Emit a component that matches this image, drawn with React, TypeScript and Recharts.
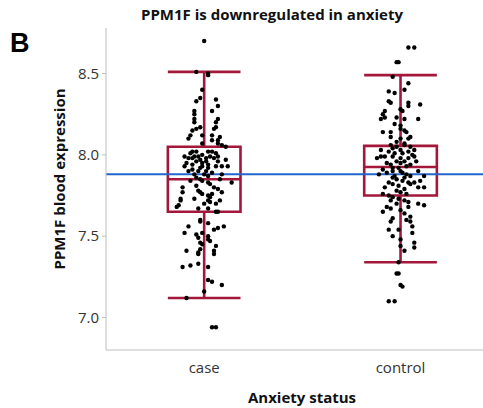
import { ComposedChart, Scatter, XAxis, YAxis, ReferenceLine, ReferenceArea } from 'recharts';

// #region data
const groups = ['case', 'control'];
const yTicks = [7.0, 7.5, 8.0, 8.5];
const overallMean = 7.88;

// box stats per group: [lower whisker, q1, median, q3, upper whisker]
const caseBox = [7.12, 7.65, 7.85, 8.05, 8.51];
const controlBox = [7.34, 7.75, 7.925, 8.055, 8.49];

const caseValues = [
  8.70, 8.51, 8.50, 8.49, 8.40, 8.35, 8.33, 8.34, 8.30, 8.27, 8.27, 8.25, 8.22, 8.22, 8.20, 8.20,
  8.17, 8.16, 8.17, 8.16, 8.15, 8.12, 8.10, 8.12, 8.12, 8.11, 8.09, 8.09, 8.07, 8.07, 8.06, 8.05,
  8.02, 8.02, 8.02, 8.02, 8.01, 8.01, 7.99, 7.99, 8.00, 7.99, 7.99, 7.98, 7.98, 7.97, 7.98, 7.98,
  7.96, 7.96, 7.95, 7.94, 7.94, 7.93, 7.91, 7.93, 7.92, 7.93, 7.93, 7.90, 7.90, 7.88, 7.87, 7.89,
  7.83, 7.85, 7.84, 7.83, 7.80, 7.77, 7.81, 7.78, 7.77, 7.76, 7.75, 7.74, 7.79, 7.77, 7.72, 7.69,
  7.72, 7.71, 7.70, 7.72, 7.67, 7.67, 7.65, 7.65, 7.99, 7.68, 7.73, 7.93, 7.86, 7.88, 7.82, 7.84,
  7.80, 7.92, 7.96, 7.88, 7.90, 7.76, 7.73, 7.70, 7.85, 7.95, 7.97,
  7.60, 7.59, 7.58, 7.56, 7.52, 7.54, 7.55, 7.56, 7.52, 7.51, 7.49, 7.50, 7.48, 7.47, 7.46, 7.45,
  7.44, 7.42, 7.40, 7.39, 7.41, 7.41, 7.39, 7.31, 7.32, 7.33, 7.31, 7.23, 7.22, 7.20, 7.16, 7.12,
  6.94, 6.94,
];
const caseJitter = [
  0.00, -0.04, 0.02, 0.02, -0.01, -0.02, -0.04, 0.06, 0.07, 0.04, -0.05, -0.05, -0.05, 0.07, 0.06, -0.05,
  0.06, 0.05, -0.02, -0.04, -0.06, -0.07, -0.08, -0.01, 0.04, 0.08, 0.04, 0.07, -0.01, 0.07, 0.09, 0.11,
  -0.06, -0.04, 0.02, 0.04, 0.06, -0.07, -0.05, -0.03, -0.01, 0.03, 0.07, -0.08, -0.06, -0.02, 0.01, 0.05,
  0.07, -0.04, -0.01, 0.02, -0.06, -0.10, -0.06, -0.01, 0.02, 0.06, 0.09, -0.03, 0.01, -0.05, 0.02, 0.04,
  0.14, -0.02, -0.01, 0.02, -0.11, -0.11, -0.04, -0.03, -0.02, -0.01, 0.02, 0.03, 0.07, 0.09, -0.12, -0.13,
  0.02, 0.03, 0.06, 0.08, -0.03, 0.02, 0.06, 0.07, -0.10, -0.14, -0.12, 0.12, -0.04, 0.00, 0.03, -0.07,
  0.05, -0.02, 0.01, 0.09, -0.08, 0.04, -0.05, 0.00, 0.08, -0.09, 0.11,
  -0.02, -0.02, 0.02, -0.08, -0.10, 0.05, 0.07, 0.10, -0.01, -0.04, -0.03, 0.02, 0.02, 0.03, -0.02, -0.01,
  0.06, -0.02, -0.03, -0.03, -0.09, 0.05, 0.05, -0.11, -0.07, -0.03, 0.02, 0.02, 0.04, 0.09, 0.00, -0.09,
  0.04, 0.06,
];

const controlValues = [
  8.66, 8.66, 8.57, 8.57, 8.48, 8.44, 8.40, 8.39, 8.38, 8.33, 8.32, 8.32, 8.30, 8.31, 8.28, 8.27,
  8.27, 8.25, 8.22, 8.23, 8.22, 8.23, 8.22, 8.19, 8.18, 8.14, 8.14, 8.16, 8.15, 8.14, 8.11, 8.10,
  8.10, 8.11, 8.08, 8.07,
  8.06, 8.05, 8.06, 8.05, 8.04, 8.03, 8.02, 8.02, 8.01, 8.01, 7.99, 7.99, 7.98, 7.99, 7.98, 7.98,
  7.99, 7.96, 7.96, 7.94, 7.94, 7.91, 7.88, 7.89, 7.90, 7.90, 7.88, 7.87, 7.90, 7.87, 7.86, 7.85,
  7.84, 7.83, 7.83, 7.80, 7.80, 7.82, 7.81, 7.79, 7.77, 7.76, 7.75, 7.74, 7.73, 7.72, 7.71, 7.72,
  7.95, 8.00, 7.92, 7.93, 7.96, 7.87, 7.89, 7.83, 7.82, 7.78, 7.76, 7.84, 7.80, 7.95, 8.03, 8.03,
  7.86, 7.92,
  7.65, 7.67, 7.61, 7.59, 7.60, 7.62, 7.59, 7.56, 7.52, 7.54, 7.54, 7.50, 7.48, 7.46, 7.44, 7.41,
  7.43, 7.69, 7.70, 7.68, 7.66, 7.64, 7.70, 7.68, 7.34, 7.27, 7.27, 7.20, 7.19, 7.10, 7.10,
];
const controlJitter = [
  0.04, 0.07, -0.02, -0.01, -0.04, 0.04, 0.02, -0.06, -0.03, -0.06, -0.05, 0.04, 0.04, 0.10, 0.00, 0.01,
  -0.08, -0.09, -0.10, -0.08, 0.09, -0.02, 0.02, -0.03, 0.00, -0.09, -0.05, 0.00, 0.02, 0.03, -0.05, 0.00,
  0.04, 0.05, -0.02, 0.02,
  -0.05, -0.02, 0.02, 0.05, -0.04, 0.00, 0.04, -0.06, -0.03, 0.01, -0.10, -0.08, -0.12, -0.04, 0.00, 0.04,
  0.07, -0.02, 0.02, 0.05, -0.05, -0.09, -0.11, -0.07, -0.04, 0.00, 0.03, 0.05, 0.09, 0.12, -0.04, -0.02,
  0.01, 0.04, 0.07, 0.09, 0.12, -0.04, -0.01, 0.02, 0.00, -0.09, -0.06, -0.04, -0.01, 0.02, 0.04, -0.05,
  -0.07, 0.06, -0.01, 0.03, 0.08, -0.03, 0.01, -0.06, 0.05, -0.02, 0.03, 0.10, -0.08, 0.00, 0.07, -0.10,
  0.02, -0.04,
  -0.09, -0.05, -0.04, -0.05, 0.03, 0.05, 0.05, 0.06, 0.06, -0.06, -0.01, -0.04, 0.00, 0.07, 0.00, 0.02,
  0.07, 0.12, 0.09, -0.07, 0.00, 0.02, -0.02, 0.04, -0.01, -0.02, -0.01, 0.00, 0.01, -0.06, -0.03,
];
// #endregion

const casePoints = caseValues.map((y, i) => ({ x: 1 + caseJitter[i], y }));
const controlPoints = controlValues.map((y, i) => ({ x: 2 + controlJitter[i], y }));

const BOX = '#a3173a';
const HALF = 0.185;
const FONT = '"Open Sans", sans-serif';

const dot = (props: any) => <circle cx={props.cx} cy={props.cy} r={2.2} fill="#000" />;

function boxParts(center: number, s: number[], key: string) {
  const [lo, q1, med, q3, hi] = s;
  const l = center - HALF;
  const r = center + HALF;
  const seg = { stroke: BOX, strokeWidth: 2.6, ifOverflow: 'visible' as const };
  return [
    <ReferenceLine key={key + 'wl'} segment={[{ x: center, y: lo }, { x: center, y: q1 }]} {...seg} />,
    <ReferenceLine key={key + 'wh'} segment={[{ x: center, y: q3 }, { x: center, y: hi }]} {...seg} />,
    <ReferenceLine key={key + 'cl'} segment={[{ x: l, y: lo }, { x: r, y: lo }]} {...seg} />,
    <ReferenceLine key={key + 'ch'} segment={[{ x: l, y: hi }, { x: r, y: hi }]} {...seg} />,
    <ReferenceArea key={key + 'box'} x1={l} x2={r} y1={q1} y2={q3} fill="none" fillOpacity={0} stroke={BOX} strokeWidth={2.6} />,
    <ReferenceLine key={key + 'md'} segment={[{ x: l, y: med }, { x: r, y: med }]} {...seg} />,
  ];
}

export default function App() {
  return (
    <div style={{ position: 'absolute', left: 0, top: 0, width: 483, height: 408, background: '#fff' }}>
      <svg width={483} height={408} style={{ position: 'absolute', left: 0, top: 0 }}>
        <text x={10} y={52} fontFamily='"Liberation Sans", Arial, sans-serif' fontWeight="bold" fontSize={27} fill="#000">B</text>
        <text x={272} y={20} textAnchor="middle" fontFamily={FONT} fontWeight="bold" fontSize={15} fill="#111">
          PPM1F is downregulated in anxiety
        </text>
      </svg>
      <ComposedChart
        width={483}
        height={408}
        margin={{ top: 28, right: 0, left: 0, bottom: 0 }}
        style={{ position: 'absolute', left: 0, top: 0 }}
      >
        <XAxis
          xAxisId="top"
          orientation="top"
          type="number"
          dataKey="x"
          domain={[0.5, 2.42]}
          allowDataOverflow
          height={0}
          tick={false}
          tickLine={false}
          axisLine={{ stroke: '#bdbdbd' }}
        />
        <XAxis
          type="number"
          dataKey="x"
          domain={[0.5, 2.42]}
          allowDataOverflow
          ticks={[1, 2]}
          tickFormatter={(v: number) => groups[v - 1]}
          height={58}
          tickLine={false}
          tickSize={0}
          tickMargin={12}
          axisLine={{ stroke: '#bdbdbd' }}
          tick={{ fontFamily: FONT, fontSize: 15, fill: '#333' }}
          label={(p: any) => (
            <text x={302} y={403} textAnchor="middle" fontFamily={FONT} fontWeight="bold" fontSize={15} fill="#111">
              Anxiety status
            </text>
          )}
        />
        <YAxis
          type="number"
          dataKey="y"
          domain={[6.8, 8.78]}
          allowDataOverflow
          ticks={yTicks}
          tickFormatter={(v: number) => v.toFixed(1)}
          width={106}
          tickSize={4}
          tickMargin={3}
          axisLine={{ stroke: '#bdbdbd' }}
          tickLine={{ stroke: '#bdbdbd' }}
          tick={{ fontFamily: FONT, fontSize: 15, fill: '#333' }}
          label={(p: any) => (
            <text
              x={65}
              y={179}
              transform="rotate(-90 65 179)"
              textAnchor="middle"
              fontFamily={FONT}
              fontWeight="bold"
              fontSize={15}
              fill="#111"
            >
              PPM1F blood expression
            </text>
          )}
        />
        {boxParts(1, caseBox, 'case')}
        {boxParts(2, controlBox, 'control')}
        <ReferenceLine y={overallMean} stroke="#2266cc" strokeWidth={2} />
        <Scatter data={casePoints} dataKey="y" shape={dot} isAnimationActive={false} />
        <Scatter data={controlPoints} dataKey="y" shape={dot} isAnimationActive={false} />
      </ComposedChart>
    </div>
  );
}
